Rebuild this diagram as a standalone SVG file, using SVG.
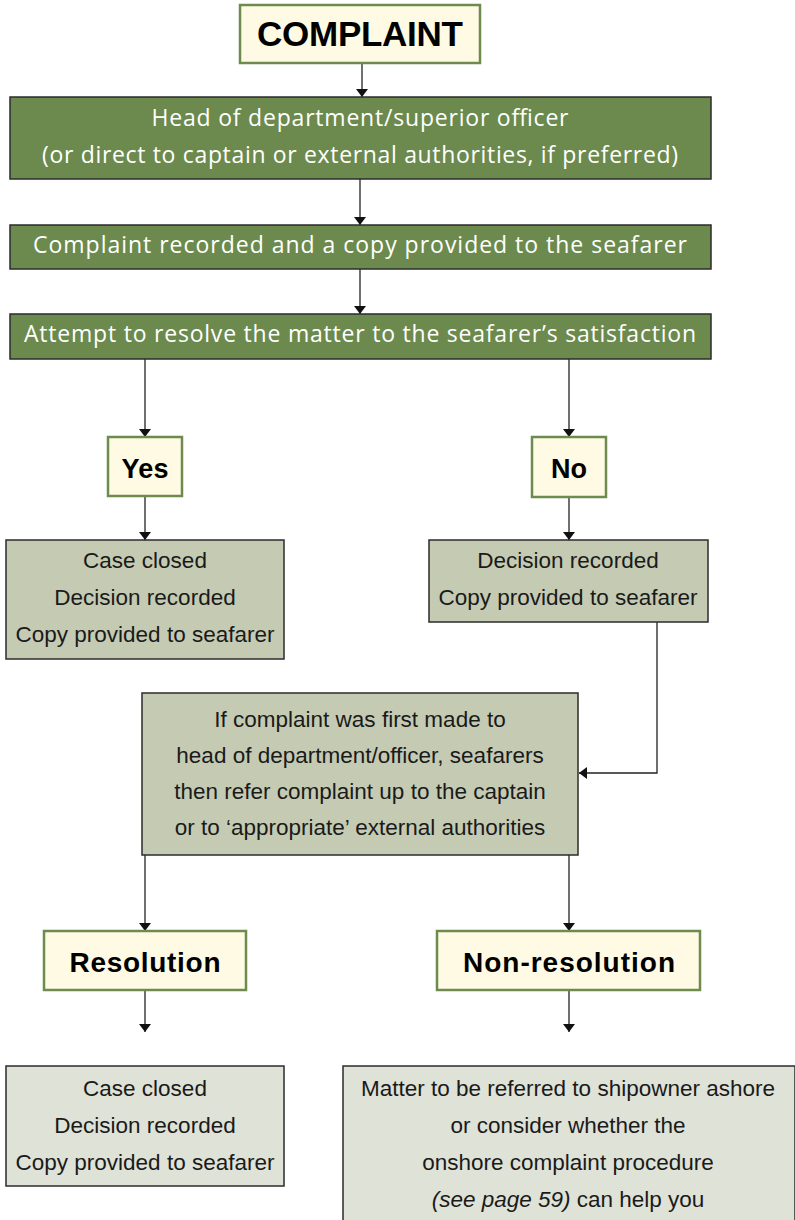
<svg xmlns="http://www.w3.org/2000/svg" width="795" height="1220" viewBox="0 0 795 1220">
<style>
.hl{fill:#fefae3;stroke:#6d8b4e;stroke-width:2.5}
.dg{fill:#6c8a4d;stroke:#2b2b2b;stroke-width:1.5}
.mg{fill:#c5cbb3;stroke:#2b2b2b;stroke-width:1.5}
.lg{fill:#dfe2d7;stroke:#2b2b2b;stroke-width:1.5}
.bt{font-family:"Liberation Sans",Arial,sans-serif;font-weight:bold;fill:#000;text-anchor:middle}
.wt{font-family:"Open Sans","DejaVu Sans",sans-serif;font-size:23px;fill:#fff;text-anchor:middle}
.tx{font-family:"Liberation Sans",Arial,sans-serif;font-size:22.5px;fill:#1a1a1a;text-anchor:middle}
.cn{fill:none;stroke:#222;stroke-width:1.3}
</style>
<defs>
<marker id="ah" viewBox="0 0 8 12" refX="8" refY="6" markerWidth="8" markerHeight="12" markerUnits="userSpaceOnUse" orient="auto">
<path d="M0,0 L8,6 L0,12 z" fill="#111"/>
</marker>
</defs>
<g id="connectors" class="cn" marker-end="url(#ah)">
<path d="M362,63 V97"/>
<path d="M360,179 V225"/>
<path d="M360,269 V314"/>
<path d="M145,359 V437"/>
<path d="M569,359 V437"/>
<path d="M145,496 V540"/>
<path d="M569,497 V540"/>
<path d="M657,622 V773 H579"/>
<path d="M145,855 V931"/>
<path d="M569,855 V931"/>
<path d="M145,990 V1032"/>
<path d="M569,990 V1032"/>
</g>
<g id="complaint">
<rect class="hl" x="240" y="5" width="240" height="58"/>
<text class="bt" x="360" y="46" font-size="35" textLength="206">COMPLAINT</text>
</g>
<g id="head">
<rect class="dg" x="10" y="97" width="701" height="82"/>
<text class="wt" x="360" y="126" textLength="417">Head of department/superior officer</text>
<text class="wt" x="360" y="163" textLength="636">(or direct to captain or external authorities, if preferred)</text>
</g>
<g id="recorded">
<rect class="dg" x="10" y="225" width="701" height="44"/>
<text class="wt" x="360" y="253" textLength="654">Complaint recorded and a copy provided to the seafarer</text>
</g>
<g id="attempt">
<rect class="dg" x="10" y="314" width="701" height="45"/>
<text class="wt" x="360" y="342" textLength="672">Attempt to resolve the matter to the seafarer’s satisfaction</text>
</g>
<g id="yes">
<rect class="hl" x="108" y="437" width="74" height="59"/>
<text class="bt" x="145" y="478" font-size="27" textLength="47">Yes</text>
</g>
<g id="no">
<rect class="hl" x="532" y="437" width="74" height="60"/>
<text class="bt" x="569" y="478" font-size="27">No</text>
</g>
<g id="case-closed-1">
<rect class="mg" x="6" y="540" width="278" height="119"/>
<text class="tx" x="145" y="568">Case closed</text>
<text class="tx" x="145" y="605">Decision recorded</text>
<text class="tx" x="145" y="642">Copy provided to seafarer</text>
</g>
<g id="decision">
<rect class="mg" x="429" y="540" width="279" height="82"/>
<text class="tx" x="568" y="568">Decision recorded</text>
<text class="tx" x="568" y="605">Copy provided to seafarer</text>
</g>
<g id="refer">
<rect class="mg" x="142" y="693" width="436" height="162"/>
<text class="tx" x="360" y="727">If complaint was first made to</text>
<text class="tx" x="360" y="763">head of department/officer, seafarers</text>
<text class="tx" x="360" y="799">then refer complaint up to the captain</text>
<text class="tx" x="360" y="835">or to ‘appropriate’ external authorities</text>
</g>
<g id="resolution">
<rect class="hl" x="44" y="931" width="202" height="59"/>
<text class="bt" x="145" y="972" font-size="28" textLength="151">Resolution</text>
</g>
<g id="non-resolution">
<rect class="hl" x="437" y="931" width="263" height="59"/>
<text class="bt" x="569" y="972" font-size="28" textLength="212">Non-resolution</text>
</g>
<g id="case-closed-2">
<rect class="lg" x="6" y="1066" width="278" height="120"/>
<text class="tx" x="145" y="1096">Case closed</text>
<text class="tx" x="145" y="1133">Decision recorded</text>
<text class="tx" x="145" y="1170">Copy provided to seafarer</text>
</g>
<g id="onshore">
<rect class="lg" x="343" y="1066" width="452" height="160"/>
<text class="tx" x="568" y="1096">Matter to be referred to shipowner ashore</text>
<text class="tx" x="568" y="1133">or consider whether the</text>
<text class="tx" x="568" y="1170">onshore complaint procedure</text>
<text class="tx" x="568" y="1207"><tspan font-style="italic">(see page 59)</tspan> can help you</text>
</g>
</svg>
